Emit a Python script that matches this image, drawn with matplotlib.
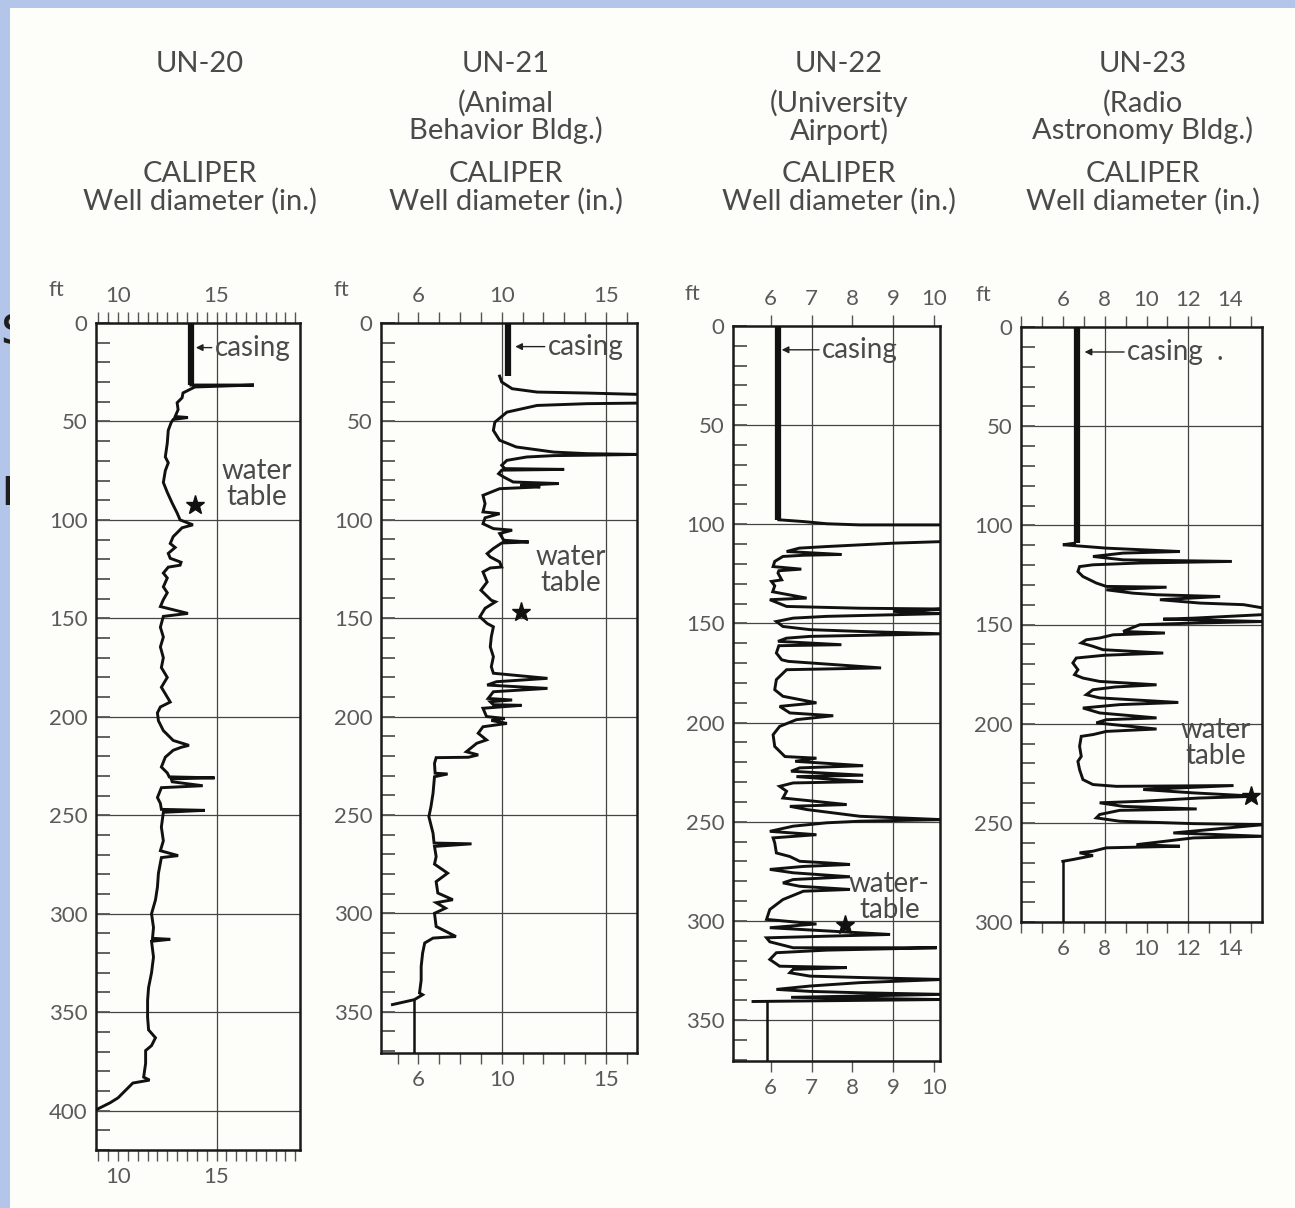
import numpy as np
import matplotlib.pyplot as plt
from matplotlib.patches import Rectangle
from matplotlib.ticker import MultipleLocator, FixedLocator

plt.rcParams['font.family'] = ['Lato', 'DejaVu Sans']

# ---------------- data (depth in ft, well diameter in inches) ----------------
wells = ['UN-20', 'UN-21', 'UN-22', 'UN-23']
subtitles = ['', '(Animal\nBehavior Bldg.)', '(University\nAirport)',
             '(Radio\nAstronomy Bldg.)']

# casing sections
un20_casing_depth = [0, 31.5]
un20_casing_dia = [13.7, 13.7]
un21_casing_depth = [0, 27]
un21_casing_dia = [10.3, 10.3]
un22_casing_depth = [0, 97.7]
un22_casing_dia = [6.17, 6.17]
un23_casing_depth = [0, 109]
un23_casing_dia = [6.7, 6.7]

# caliper traces
un20_depth = [31.5, 31.5, 32.5, 35.5, 38, 40.5, 44, 47.5, 48, 49, 50.5, 54.5,
              61, 68, 71, 75, 81, 86, 91.5, 96.5, 100, 102.5, 104, 108.5, 112,
              114, 117, 119.5, 121.5, 123, 124, 127, 129.5, 134, 137, 140.5,
              144, 147.5, 149, 154.5, 159.5, 164.5, 170, 175, 180, 185, 190,
              192.5, 195, 198, 202, 207, 212, 214.5, 215.5, 217, 220.5, 225.5,
              228.5, 230.5, 231, 231.5, 233, 235, 236, 241, 244, 247, 247.5,
              248.5, 256, 263, 268, 270.5, 271.5, 279.5, 286.5, 293, 300, 307,
              312.5, 313, 314, 322, 330, 337.5, 344, 352.5, 359, 363, 367,
              369.5, 376, 383, 384.5, 386, 390, 393.5, 396, 399.5]
un20_dia = [13.7, 16.9, 13.9, 13.3, 13.25, 13.0, 13.05, 12.9, 13.55, 12.8, 12.7,
            12.55, 12.5, 12.4, 12.55, 12.4, 12.3, 12.5, 12.75, 13.0, 13.15, 13.8,
            13.25, 12.8, 12.65, 12.9, 12.55, 12.65, 13.2, 13.15, 12.55, 12.3,
            12.5, 12.3, 12.5, 12.3, 12.15, 13.55, 12.3, 12.15, 12.3, 12.15,
            12.3, 12.2, 12.5, 12.2, 12.5, 12.65, 12.15, 12.0, 12.05, 12.3, 12.8,
            13.6, 13.2, 12.8, 12.4, 12.2, 12.5, 12.6, 14.9, 12.7, 12.75, 14.3,
            12.2, 12.0, 12.15, 12.2, 14.4, 12.3, 12.2, 12.3, 12.15, 13.05, 12.2,
            12.05, 12.0, 11.9, 11.7, 11.8, 11.75, 12.65, 11.7, 11.8, 11.7, 11.55,
            11.5, 11.5, 11.55, 11.9, 11.7, 11.4, 11.4, 11.3, 11.6, 10.75, 10.35,
            10.0, 9.6, 8.9]

un21_depth = [27, 30, 33.4, 35.1, 35.6, 36.3, 40.7, 41, 41.9, 45.3, 50.4, 54.6,
              59.6, 63, 65.6, 66.4, 66.8, 67.2, 67.4, 68.1, 69.8, 72.3, 74, 74.4,
              74.8, 76.6, 78.3, 80.8, 81.6, 82.5, 83.3, 84.2, 85.9, 87.6, 91.8,
              96, 96.9, 99, 102, 104.5, 105.3, 107, 110.4, 111.3, 111.8, 114.6,
              117.2, 118.9, 121.4, 124, 124.5, 126.5, 131.6, 135.8, 140.9, 141.7,
              145, 149.3, 152.7, 154.4, 159.5, 164.6, 169.6, 174.7, 178, 180.6,
              182.3, 184, 185.7, 187.4, 190.8, 191.6, 192.5, 194, 194.3, 195.8,
              200, 201, 202, 203.5, 205.2, 208.5, 211.9, 213.6, 217.9, 219.5,
              220.7, 220.9, 223.8, 228.8, 229.2, 230.6, 239, 245.8, 250.9, 259.3,
              264.3, 264.7, 266, 271.2, 275, 279.6, 283.9, 289.7, 293.1, 294.6,
              297.4, 300, 306.7, 311.8, 312.6, 315.1, 320.2, 327, 334, 340.5,
              341.4, 343.9, 346.4]
un21_dia = [9.9, 10.0, 10.5, 11.7, 14.1, 16.6, 16.6, 14.1, 11.7, 10.25, 9.67,
            9.6, 9.9, 10.7, 12.5, 14.1, 16.6, 14.1, 12.5, 11.2, 10.25, 10.0,
            10.15, 13.0, 10.0, 9.85, 10.1, 10.55, 12.75, 10.9, 11.85, 9.9, 9.5,
            9.1, 9.2, 9.1, 9.9, 9.2, 9.1, 9.6, 10.5, 9.9, 10.1, 11.3, 10.0, 9.6,
            9.3, 9.45, 9.9, 10.0, 9.45, 9.1, 9.3, 9.0, 9.5, 9.7, 9.2, 8.95, 9.3,
            9.6, 9.5, 9.45, 9.6, 9.5, 9.6, 12.2, 9.75, 9.3, 12.2, 9.6, 9.35,
            10.5, 9.45, 9.6, 10.95, 9.1, 9.27, 10.15, 9.5, 10.25, 9.1, 8.87,
            9.27, 8.8, 8.3, 8.87, 8.4, 6.85, 6.77, 6.8, 7.4, 6.77, 6.7, 6.6,
            6.5, 6.7, 6.75, 8.55, 6.77, 6.85, 6.77, 7.4, 6.85, 6.93, 7.65, 6.85,
            7.3, 6.77, 6.85, 7.8, 6.7, 6.3, 6.2, 6.13, 6.13, 6.05, 6.2, 5.8, 4.75]

un22_depth = [97.7, 98.6, 99.7, 100.3, 100.3, 108.7, 109.5, 111.2, 112, 113.7,
              115.2, 115.6, 116.2, 118.7, 121.3, 122.6, 123.4, 124.6, 128, 128.8,
              131, 134, 137.2, 138, 141.4, 141.7, 142.3, 142.7, 143.9, 145, 146.4,
              147.3, 149, 151.5, 153.1, 154, 155.2, 156, 156.5, 157.4, 159, 160.7,
              161.2, 164.9, 168.3, 169.1, 172.4, 173.3, 178.3, 183.4, 186.7, 190,
              191.8, 195.1, 196.5, 198.5, 201.9, 206.1, 212, 217.1, 217.9, 219.5,
              221.7, 222.8, 224.5, 226.5, 227.2, 229.7, 230.4, 232.1, 234.6, 238,
              241.3, 242.2, 243.8, 245.5, 247.2, 248.9, 249.7, 250.5, 252.2, 254.8,
              256.5, 258.1, 260.6, 265.7, 267.5, 269.9, 270.7, 271.5, 272.5, 274,
              275.7, 277.7, 279.1, 280.8, 282.5, 284.1, 285, 289.2, 294.2, 299.2,
              301.5, 303.4, 306.8, 308.5, 310.5, 313.5, 313.5, 313.5, 314.7, 316,
              319.4, 322.8, 323.5, 324.4, 326.1, 327.8, 328.5, 329.5, 331.1, 332.8,
              334.5, 335.5, 336.2, 337, 338.5, 339.6, 340.6]
un22_dia = [6.2, 6.8, 7.37, 8.18, 10.2, 10.2, 9.0, 7.37, 6.7, 6.39, 7.73, 6.8,
            6.3, 6.1, 6.06, 6.75, 6.2, 6.18, 6.27, 6.02, 6.1, 6.05, 6.88, 5.98,
            6.39, 6.96, 8.18, 10.2, 9.0, 10.2, 7.37, 6.55, 6.14, 6.3, 6.96, 8.18,
            10.2, 8.18, 6.96, 6.39, 6.18, 7.73, 6.2, 6.14, 6.27, 6.43, 8.7, 6.39,
            6.14, 6.1, 6.3, 7.12, 6.22, 6.47, 7.53, 6.63, 6.22, 6.06, 6.1, 6.35,
            7.12, 6.6, 8.26, 6.71, 6.5, 8.26, 6.63, 8.26, 6.55, 6.22, 6.39, 6.3,
            7.86, 6.47, 6.88, 7.53, 8.18, 10.2, 8.18, 7.37, 6.55, 5.98, 7.12, 6.06,
            6.1, 6.14, 6.47, 6.71, 7.37, 7.94, 6.8, 5.98, 6.55, 7.94, 6.55, 6.3,
            6.71, 7.94, 6.8, 6.3, 5.98, 5.9, 7.12, 5.98, 8.92, 5.9, 5.98, 6.55,
            8.18, 10.06, 7.37, 6.14, 5.98, 6.22, 7.86, 6.55, 6.47, 6.96, 8.18,
            10.2, 8.18, 6.96, 6.14, 6.96, 8.18, 10.2, 6.5, 10.2, 5.57]

un23_depth = [109, 109.8, 110.7, 111.5, 113.2, 114, 115.7, 117.4, 118.2, 119,
              119.9, 120.8, 123.3, 125.8, 129.1, 130.8, 131.2, 132.5, 134.2, 135,
              135.9, 137.5, 139.2, 140, 141.7, 145, 146.8, 147.3, 148.5, 149.3,
              150.1, 153.5, 154.3, 155.2, 156.8, 157.7, 159.3, 161, 162.7, 164.4,
              165.5, 166.9, 169.4, 172.8, 175.3, 177, 178.7, 180.4, 181.5, 182.9,
              185.4, 187, 189.3, 190.4, 192.1, 194.6, 197.1, 198, 199.6, 202.7,
              203.9, 205.5, 206.4, 211.4, 216.5, 219, 223.2, 228.2, 230.7, 231.6,
              231.2, 233.2, 234.9, 236.6, 237.5, 239.1, 239.9, 241.7, 243, 243.7,
              245.8, 247.5, 249.2, 250.4, 250.9, 255.1, 256.8, 257.6, 261, 261.8,
              262.6, 264.3, 265.1, 266.5, 268.5, 269.4]
un23_dia = [6.56, 6.0, 7.12, 8.08, 11.6, 8.88, 7.44, 8.88, 14.08, 9.68, 7.44,
            6.8, 6.72, 6.96, 7.6, 8.08, 10.96, 8.08, 9.36, 10.48, 13.52, 10.64,
            12.56, 14.64, 15.6, 15.6, 12.24, 10.8, 15.6, 12.24, 9.68, 8.88, 10.88,
            8.4, 7.76, 7.12, 6.88, 7.44, 7.92, 10.8, 8.0, 6.64, 6.48, 6.72, 6.56,
            6.96, 7.76, 10.48, 8.5, 7.44, 7.12, 7.76, 11.52, 8.72, 6.96, 7.76,
            10.48, 8.08, 7.6, 10.48, 8.08, 7.44, 6.88, 6.8, 6.88, 6.72, 6.8, 6.96,
            7.44, 8.56, 14.16, 9.84, 12.24, 15.28, 12.5, 9.84, 7.76, 8.88, 12.4,
            8.72, 7.76, 7.6, 8.72, 12.24, 15.6, 11.28, 15.6, 12.24, 9.52, 11.6,
            8.08, 7.44, 6.8, 7.44, 6.48, 6.0]

# bottom (open hole below the trace) segments
tail_depth = [[], [343.9, 371], [340.6, 371], [269.4, 300]]
tail_dia = [[], [5.8, 5.8], [5.9, 5.9], [6.0, 6.0]]

# water table markers (depth, diameter)
wt_depth = [92.5, 147, 301.8, 236.6]
wt_dia = [13.9, 10.93, 7.81, 15.0]

casing_depth = [un20_casing_depth, un21_casing_depth, un22_casing_depth, un23_casing_depth]
casing_dia = [un20_casing_dia, un21_casing_dia, un22_casing_dia, un23_casing_dia]
trace_depth = [un20_depth, un21_depth, un22_depth, un23_depth]
trace_dia = [un20_dia, un21_dia, un22_dia, un23_dia]

# axis settings per well
xlims = [(8.88, 19.24), (4.2, 16.5), (5.08, 10.14), (4.0, 15.52)]
ylims = [(420, 0), (371, 0), (370.6, 0), (300, 0)]
x_labels = [[10, 15], [6, 10, 15], [6, 7, 8, 9, 10], [6, 8, 10, 12, 14]]
x_minor = [0.5, 1, 1, 1]
grid_x = [[15], [10, 15], [7, 9], [8, 12]]

# ---------------- figure ----------------
W, H = 1295, 1208
fig = plt.figure(figsize=(W / 100, H / 100), dpi=100)
fig.patch.set_facecolor('#b3c6ea')
fig.add_artist(Rectangle((10 / W, 0), 1, 1 - 8 / H, transform=fig.transFigure,
                         facecolor='#fdfdf9', edgecolor='none', zorder=-1))
# bits of the slide text showing behind the paper edge
fig.text(0.5 / W, 1 - 328 / H, 's', fontsize=38, color='#1e1e1e', ha='left',
         va='center', family='DejaVu Sans', zorder=-2)
fig.text(0.5 / W, 1 - 490 / H, 'n', fontsize=38, color='#1e1e1e', ha='left',
         va='center', family='DejaVu Sans', zorder=-2)

# axes boxes in pixels (left, top, right, bottom)
boxes = [(96, 323, 300, 1150), (381, 323, 637, 1053),
         (733, 326, 940, 1061), (1021, 327, 1262, 922)]
title_x = [200, 506, 839, 1143]
ft_pos = [(56, 290), (341, 290), (692, 294), (983, 295)]

tc = '#4a4a4a'
lc = '#5a5a5a'
for i in range(4):
    l, t, r, b = boxes[i]
    ax = fig.add_axes([l / W, 1 - b / H, (r - l) / W, (b - t) / H])
    ax.set_facecolor('#fdfdf9')

    for v in grid_x[i]:
        ax.axvline(v, color='#444444', lw=0.9, zorder=1)
    for d in range(50, int(ylims[i][0]) + 1, 50):
        ax.axhline(d, color='#444444', lw=0.9, zorder=1)

    ax.plot(casing_dia[i], casing_depth[i], color='#111111', lw=4.5,
            solid_capstyle='butt', zorder=3)
    ax.plot(trace_dia[i], trace_depth[i], color='#111111', lw=2.1,
            solid_joinstyle='miter', zorder=3)
    if tail_depth[i]:
        ax.plot(tail_dia[i], tail_depth[i], color='#111111', lw=1.8, zorder=3)
    ax.plot(wt_dia[i], wt_depth[i], marker='*', color='#111111', ms=14, zorder=4)

    ax.set_xlim(xlims[i])
    ax.set_ylim(ylims[i])

    ax.xaxis.set_major_locator(FixedLocator(x_labels[i]))
    ax.xaxis.set_minor_locator(MultipleLocator(x_minor[i]))
    ax.yaxis.set_major_locator(MultipleLocator(50))
    ax.yaxis.set_minor_locator(MultipleLocator(10))
    ax.tick_params(axis='x', which='both', top=True, bottom=True, labeltop=True,
                   labelbottom=True, direction='out', length=8,
                   width=1.0, color='#555555', labelsize=16, labelcolor=lc,
                   pad=4)
    ax.tick_params(axis='y', which='both', left=True, right=False, direction='in',
                   length=10, width=1.3, color='#555555', labelsize=16,
                   labelcolor=lc, pad=6)
    for s in ax.spines.values():
        s.set_linewidth(1.8)
        s.set_color('#1a1a1a')

    fig.text(ft_pos[i][0] / W, 1 - ft_pos[i][1] / H, 'ft', fontsize=16,
             color=lc, ha='center', va='center')

    # column headings
    fig.text(title_x[i] / W, 1 - 64 / H, wells[i], fontsize=21, color=tc,
             ha='center', va='center')
    if subtitles[i]:
        fig.text(title_x[i] / W, 1 - 117 / H, subtitles[i], fontsize=21,
                 color=tc, ha='center', va='center', linespacing=1.0)
    fig.text(title_x[i] / W, 1 - 188 / H, 'CALIPER\nWell diameter (in.)',
             fontsize=21, color=tc, ha='center', va='center', linespacing=1.05)

# casing arrows and water table notes
ax20, ax21, ax22, ax23 = fig.axes
arrow = dict(arrowstyle='-|>', color='#222222', lw=1.0, mutation_scale=10,
             shrinkA=0, shrinkB=0)
ax20.annotate('casing', xy=(13.95, 12.5), xytext=(14.9, 12.5), fontsize=20,
              color=tc, va='center', ha='left', arrowprops=arrow)
ax21.annotate('casing', xy=(10.65, 12), xytext=(12.2, 12), fontsize=20,
              color=tc, va='center', ha='left', arrowprops=arrow)
ax22.annotate('casing', xy=(6.27, 12), xytext=(7.25, 12), fontsize=20,
              color=tc, va='center', ha='left', arrowprops=arrow)
ax23.annotate('casing  .', xy=(7.04, 12.6), xytext=(9.06, 12.6), fontsize=20,
              color=tc, va='center', ha='left', arrowprops=arrow)

ax20.text(17.05, 82, 'water\ntable', fontsize=20, color=tc, ha='center',
          va='center', linespacing=1.0)
ax21.text(13.3, 125.6, 'water\ntable', fontsize=20, color=tc, ha='center',
          va='center', linespacing=1.0)
ax22.text(8.9, 288, 'water-\ntable', fontsize=20, color=tc, ha='center',
          va='center', linespacing=1.0)
ax23.text(13.3, 210, 'water\ntable', fontsize=20, color=tc, ha='center',
          va='center', linespacing=1.0)

plt.savefig('out.png', dpi=100, facecolor=fig.get_facecolor())
